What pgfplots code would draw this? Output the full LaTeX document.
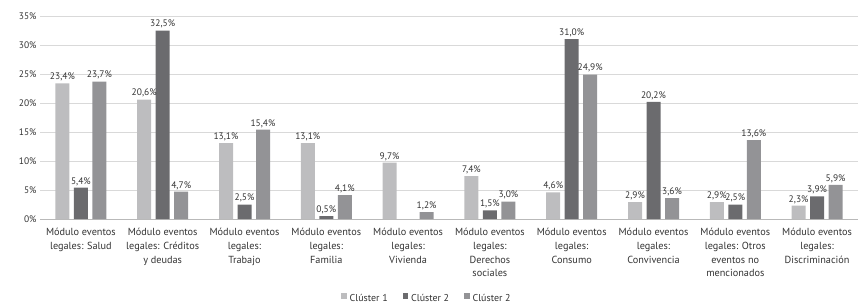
\documentclass[border=0pt]{standalone}
\usepackage{fontspec}
\setmainfont{PT Sans}
\usepackage{pgfplots}
\pgfplotsset{compat=1.18}
\definecolor{cA}{HTML}{BDBDBF}
\definecolor{cB}{HTML}{6B6B6E}
\definecolor{cC}{HTML}{939396}
\definecolor{gridc}{HTML}{D9D9D9}
\definecolor{txt}{HTML}{333333}
\begin{document}
\begin{tikzpicture}
\useasboundingbox (-40bp,-86bp) rectangle (818bp,219bp);
\begin{axis}[
  at={(0,0)}, anchor=south west,
  scale only axis, width=818bp, height=203bp,
  ybar=4.5bp, bar width=14bp,
  xmin=-0.5, xmax=9.5, ymin=0, ymax=35,
  ytick={0,5,...,35},
  xtick={0,...,9},
  xticklabels={
    {Módulo eventos\\legales: Salud},
    {Módulo eventos\\legales: Créditos\\y deudas},
    {Módulo eventos\\legales:\\Trabajo},
    {Módulo eventos\\legales:\\Familia},
    {Módulo eventos\\legales:\\Vivienda},
    {Módulo eventos\\legales:\\Derechos\\sociales},
    {Módulo eventos\\legales:\\Consumo},
    {Módulo eventos\\legales:\\Convivencia},
    {Módulo eventos\\legales: Otros\\eventos no\\mencionados},
    {Módulo eventos\\legales:\\Discriminación}},
  xticklabel style={align=center, font=\fontsize{10.3}{13.6}\selectfont, text=txt, yshift=-6bp},
  yticklabel style={font=\fontsize{9.5}{11}\selectfont, text=txt},
  /pgf/number format/assume math mode=true,
  yticklabel={\pgfmathprintnumber{\tick}\%},
  axis line style={draw=none},
  major tick length=0pt,
  tick style={draw=none},
  ymajorgrids, grid style={draw=gridc, line width=0.8bp},
  extra y ticks={0}, extra y tick labels={},
  extra y tick style={grid style={draw=gray!55, line width=0.9bp}},
  nodes near coords={\pgfmathprintnumber[fixed,fixed zerofill,precision=1,use comma]{\pgfplotspointmeta}\%},
  every node near coord/.append style={font=\fontsize{9.5}{10}\selectfont, text=txt, inner sep=2bp},
  legend style={at={(0.473,-0.39)}, anchor=center, draw=none, fill=none,
    legend columns=3, font=\fontsize{10}{11}\selectfont, text=txt,
    /tikz/every odd column/.append style={column sep=1bp},
    /tikz/every even column/.append style={column sep=13bp}},
  legend image code/.code={\fill[#1] (2bp,-0.5bp) rectangle (7.5bp,5bp);},
]
\addplot[fill=cA, draw=none] coordinates {(0,23.4) (1,20.6) (2,13.1) (3,13.1) (4,9.7) (5,7.4) (6,4.6) (7,2.9) (8,2.9) (9,2.3)};
\addplot[fill=cB, draw=none] coordinates {(0,5.4) (1,32.5) (2,2.5) (3,0.5) (5,1.5) (6,31.0) (7,20.2) (8,2.5) (9,3.9)};
\addplot[fill=cC, draw=none] coordinates {(0,23.7) (1,4.7) (2,15.4) (3,4.1) (4,1.2) (5,3.0) (6,24.9) (7,3.6) (8,13.6) (9,5.9)};
\legend{Clúster 1, Clúster 2, Clúster 2}
\end{axis}
\end{tikzpicture}
\end{document}
